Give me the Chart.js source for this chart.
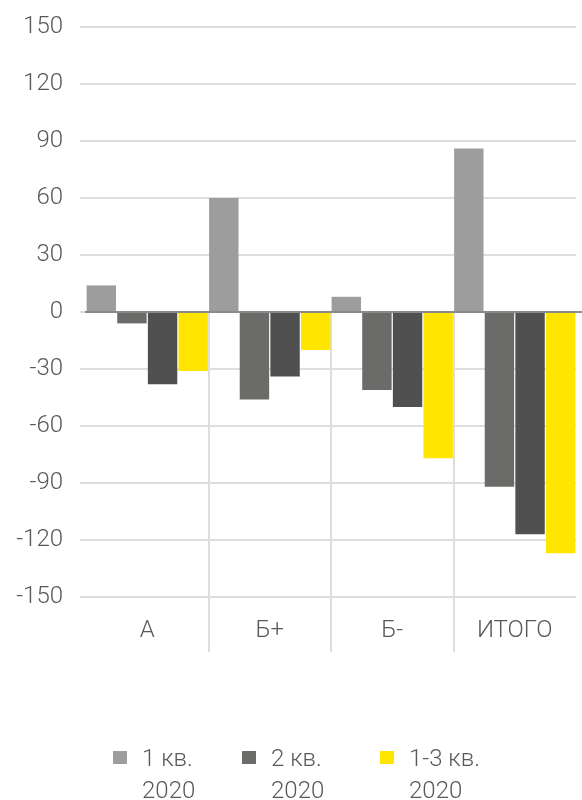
<!DOCTYPE html>
<html>
<head>
<meta charset="utf-8">
<script src="https://cdn.jsdelivr.net/npm/chart.js@4"></script>
<style>
  html, body { margin: 0; padding: 0; background: #fff; }
  #wrap { position: relative; width: 582px; height: 800px; overflow: hidden; }
  .legend-item {
    position: absolute; top: 742px; display: flex; align-items: flex-start;
    font-family: Roboto, "Noto Sans", sans-serif; font-weight: 300;
    font-size: 24px; line-height: 32px; color: #595959;
  }
  .legend-item i { display: block; width: 14px; height: 13px; margin-top: 9px; margin-right: 15px; }
</style>
</head>
<body>
<div id="wrap">
  <canvas id="chart" width="582" height="800"></canvas>
  <div class="legend-item" style="left:113px"><i style="background:#9d9d9d"></i><span>1 кв.<br>2020</span></div>
  <div class="legend-item" style="left:242px"><i style="background:#6b6b69"></i><span>2 кв.<br>2020</span></div>
  <div class="legend-item" style="left:380px"><i style="background:#ffe500"></i><span>1-3 кв.<br>2020</span></div>
</div>
<script>
// Values.
const categories = ["А", "Б+", "Б-", "ИТОГО"];
const q1 = [14, 60, 8, 86];
const q2 = [-6, -46, -41, -92];
const q3 = [-38, -34, -50, -117];
const q1to3 = [-31, -20, -77, -127];

const yMin = -150;
const yMax = 150;
const yStep = 30;

const fontFamily = "Roboto, 'Noto Sans', sans-serif";
const textColor = "#595959";
const gridColor = "#dedede";

const series = [
  { label: "1 кв. 2020", data: q1, color: "#9d9d9d" },
  { label: "2 кв. 2020", data: q2, color: "#6b6b69" },
  { label: "3 кв. 2020", data: q3, color: "#505050" },
  { label: "1-3 кв. 2020", data: q1to3, color: "#ffe500" },
];

// Separators below zero between categories, and the zero line over the bars.
const axisLinesPlugin = {
  id: "axisLines",
  beforeDatasetsDraw(chart) {
    const { ctx, scales: { x, y } } = chart;
    const zero = y.getPixelForValue(0);
    ctx.save();
    ctx.strokeStyle = gridColor;
    ctx.lineWidth = 2;
    for (let i = 1; i < categories.length; i++) {
      const px = Math.round((x.getPixelForTick(i - 1) + x.getPixelForTick(i)) / 2);
      ctx.beginPath();
      ctx.moveTo(px, zero);
      ctx.lineTo(px, y.bottom + 55);
      ctx.stroke();
    }
    ctx.restore();
  },
  afterDatasetsDraw(chart) {
    const { ctx, chartArea, scales: { y } } = chart;
    const zero = y.getPixelForValue(0);
    ctx.save();
    ctx.strokeStyle = "#8a8a8a";
    ctx.lineWidth = 2;
    ctx.beginPath();
    ctx.moveTo(chartArea.left - 1, zero);
    ctx.lineTo(chart.width, zero);
    ctx.stroke();
    ctx.restore();
  },
};

new Chart(document.getElementById("chart"), {
  type: "bar",
  data: {
    labels: categories,
    datasets: series.map((s) => ({
      label: s.label,
      data: s.data,
      backgroundColor: s.color,
      borderWidth: 0,
      barPercentage: 0.96,
      categoryPercentage: 1,
    })),
  },
  plugins: [axisLinesPlugin],
  options: {
    responsive: false,
    animation: false,
    layout: { padding: { top: 27, right: 6, bottom: 143, left: 0 } },
    scales: {
      y: {
        min: yMin,
        max: yMax,
        afterFit: (scale) => {
          scale.width = 86;
          scale.paddingTop = 0;
          scale.paddingBottom = 0;
        },
        ticks: {
          stepSize: yStep,
          padding: 17,
          color: textColor,
          font: { family: fontFamily, size: 24, weight: 300 },
        },
        grid: { color: gridColor, lineWidth: 2, tickLength: 6, tickColor: gridColor },
        border: { display: false },
      },
      x: {
        afterFit: (scale) => { scale.height = 60; },
        ticks: {
          padding: 20,
          color: textColor,
          font: { family: fontFamily, size: 24, weight: 300 },
        },
        grid: { display: false, drawTicks: false },
        border: { display: false },
      },
    },
    plugins: {
      legend: { display: false },
      tooltip: { enabled: false },
    },
  },
});
</script>
</body>
</html>
